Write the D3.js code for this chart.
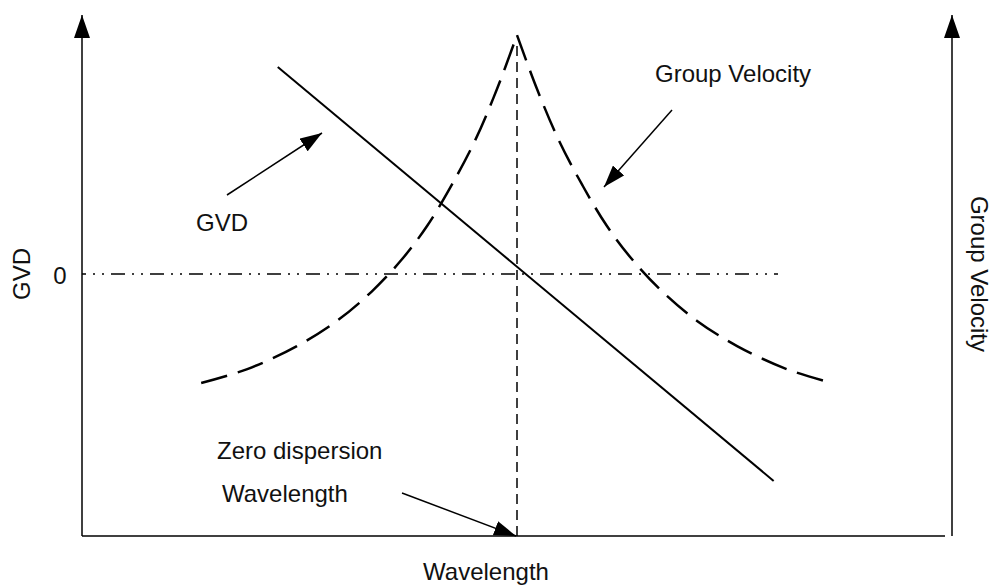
<!DOCTYPE html>
<html>
<head>
<meta charset="utf-8">
<script src="https://cdn.jsdelivr.net/npm/d3@7"></script>
<style>
  body { margin: 0; background: #fff; }
  text { font-family: "Liberation Sans", Arial, sans-serif; fill: #111; }
</style>
</head>
<body>
<div id="chart"></div>
<script>
// Schematic values (arbitrary units): wavelength 0..100, GVD -100..100
const zeroWavelength = 50;
const gvdLine = [[22.5, 79], [79.5, -79]];
const groupVelocityLeft = [
    [13.7, -41.6], [19.0, -36.3], [24.7, -27.5], [29.3, -17.9], [33.3, -6.7],
    [36.8, 5.7], [39.7, 18.5], [42.5, 34.0], [45.2, 51.1], [47.7, 70.6], [50, 91.2]
];
const groupVelocityRight = [
    [50, 91.2], [52.3, 70.6], [54.8, 51.1], [57.5, 34.0], [60.3, 18.5], [63.2, 5.7],
    [66.7, -6.7], [70.7, -17.9], [75.3, -27.5], [81.0, -36.3], [86.2, -41.6]
];
const yTickLabels = ["0"];

const width = 992, height = 585;
const svg = d3.select("#chart").append("svg")
    .attr("width", width)
    .attr("height", height);

const x = d3.scaleLinear().domain([0, 100]).range([82, 952]);
const y = d3.scaleLinear().domain([-100, 100]).range([536, 12]);

// arrow markers
const defs = svg.append("defs");
defs.append("marker")
    .attr("id", "axisHead")
    .attr("viewBox", "0 0 23 16")
    .attr("refX", 23).attr("refY", 8)
    .attr("markerWidth", 23).attr("markerHeight", 16)
    .attr("markerUnits", "userSpaceOnUse")
    .attr("orient", "auto")
    .append("path").attr("d", "M0,0 L23,8 L0,16 Z").attr("fill", "#000");
defs.append("marker")
    .attr("id", "noteHead")
    .attr("viewBox", "0 0 22 15")
    .attr("refX", 22).attr("refY", 7.5)
    .attr("markerWidth", 22).attr("markerHeight", 15)
    .attr("markerUnits", "userSpaceOnUse")
    .attr("orient", "auto")
    .append("path").attr("d", "M0,0 L22,7.5 L0,15 Z").attr("fill", "#000");

// axes
svg.append("line")
    .attr("x1", x(0)).attr("y1", y(-100))
    .attr("x2", x(0)).attr("y2", 15)
    .attr("stroke", "#000").attr("stroke-width", 1.5)
    .attr("marker-end", "url(#axisHead)");
svg.append("line")
    .attr("x1", x(100)).attr("y1", y(-100))
    .attr("x2", x(100)).attr("y2", 15)
    .attr("stroke", "#000").attr("stroke-width", 1.5)
    .attr("marker-end", "url(#axisHead)");
svg.append("line")
    .attr("x1", x(0)).attr("y1", y(-100))
    .attr("x2", x(99.2)).attr("y2", y(-100))
    .attr("stroke", "#000").attr("stroke-width", 1.5);

// zero line (dash-dot)
svg.append("line")
    .attr("x1", x(0)).attr("y1", y(0))
    .attr("x2", x(80)).attr("y2", y(0))
    .attr("stroke", "#000").attr("stroke-width", 1.3)
    .attr("stroke-dasharray", "14,7,2,7,2,7")
    .attr("stroke-dashoffset", 10);

svg.selectAll(".ytick")
    .data(yTickLabels)
    .enter().append("text")
    .attr("x", 60).attr("y", y(0) + 2)
    .attr("dy", "0.35em")
    .attr("text-anchor", "middle")
    .style("font-size", "24px")
    .text(d => d);

// zero-dispersion vertical
svg.append("line")
    .attr("x1", x(zeroWavelength)).attr("y1", y(-100))
    .attr("x2", x(zeroWavelength)).attr("y2", y(88))
    .attr("stroke", "#000").attr("stroke-width", 1.5)
    .attr("stroke-dasharray", "10,6");

// GVD line
svg.append("path")
    .datum(gvdLine)
    .attr("fill", "none")
    .attr("stroke", "#000").attr("stroke-width", 2)
    .attr("d", d3.line().x(d => x(d[0])).y(d => y(d[1])));

// group velocity curve
const gvLine = d3.line().x(d => x(d[0])).y(d => y(d[1])).curve(d3.curveCatmullRom);
[groupVelocityLeft, groupVelocityRight].forEach(series => {
    svg.append("path")
        .datum(series)
        .attr("fill", "none")
        .attr("stroke", "#000").attr("stroke-width", 2.5)
        .attr("stroke-dasharray", "27,11")
        .attr("d", gvLine);
});

// annotation arrows
const arrows = [
    [[227, 195], [322, 133]],
    [[672, 110], [604, 187]],
    [[402, 493], [x(zeroWavelength) - 1, y(-100)]]
];
svg.selectAll(".note")
    .data(arrows)
    .enter().append("line")
    .attr("x1", d => d[0][0]).attr("y1", d => d[0][1])
    .attr("x2", d => d[1][0]).attr("y2", d => d[1][1])
    .attr("stroke", "#000").attr("stroke-width", 1.5)
    .attr("marker-end", "url(#noteHead)");

// labels
const labels = [
    { text: "Group Velocity", x: 655, y: 82 },
    { text: "GVD", x: 196, y: 231 },
    { text: "Zero dispersion", x: 217, y: 459 },
    { text: "Wavelength", x: 222, y: 502 }
];
svg.selectAll(".label")
    .data(labels)
    .enter().append("text")
    .attr("x", d => d.x).attr("y", d => d.y)
    .style("font-size", "24px")
    .text(d => d.text);

// axis titles
svg.append("text")
    .attr("x", 486).attr("y", 580)
    .attr("text-anchor", "middle")
    .style("font-size", "24px")
    .text("Wavelength");
svg.append("text")
    .attr("transform", `translate(22,${y(0)}) rotate(-90)`)
    .attr("dy", "0.35em")
    .attr("text-anchor", "middle")
    .style("font-size", "24px")
    .text("GVD");
svg.append("text")
    .attr("transform", `translate(979,${y(0)}) rotate(90)`)
    .attr("dy", "0.35em")
    .attr("text-anchor", "middle")
    .style("font-size", "24px")
    .text("Group Velocity");
</script>
</body>
</html>
